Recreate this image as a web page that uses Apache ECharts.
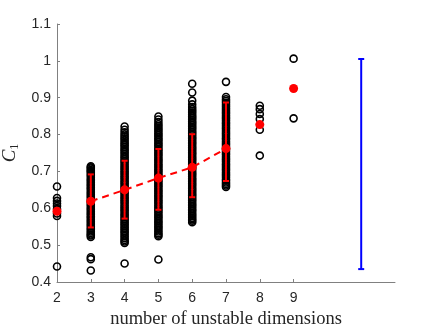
<!DOCTYPE html>
<html>
<head>
<meta charset="utf-8">
<script src="https://cdn.jsdelivr.net/npm/echarts@6/dist/echarts.min.js"></script>
<style>html,body{margin:0;padding:0;background:#fff}#c{width:436px;height:327px}</style>
</head>
<body>
<div id="c"></div>
<script>
// ---- data ----
var xTicks = [2, 3, 4, 5, 6, 7, 8, 9];
var yTicks = [0.4, 0.5, 0.6, 0.7, 0.8, 0.9, 1, 1.1];
var c2 = [0.659,0.628,0.620,0.613,0.606,0.598,0.586,0.579,0.442];
var c3 = [0.714,0.711,0.708,0.704,0.701,0.698,0.693,0.689,0.684,0.679,0.675,0.670,0.665,0.661,0.656,0.652,0.647,0.642,0.638,0.633,0.629,0.624,0.619,0.615,0.610,0.606,0.601,0.597,0.592,0.587,0.583,0.578,0.574,0.569,0.565,0.560,0.555,0.551,0.546,0.542,0.537,0.533,0.529,0.526,0.522,0.467,0.462,0.431];
var c4 = [0.822,0.813,0.806,0.800,0.795,0.790,0.785,0.780,0.775,0.771,0.766,0.761,0.757,0.752,0.747,0.742,0.738,0.733,0.728,0.724,0.719,0.714,0.709,0.705,0.700,0.696,0.691,0.686,0.682,0.677,0.672,0.668,0.663,0.658,0.654,0.649,0.644,0.640,0.635,0.630,0.626,0.621,0.617,0.612,0.607,0.603,0.598,0.594,0.589,0.584,0.580,0.575,0.570,0.566,0.561,0.557,0.552,0.547,0.543,0.538,0.534,0.529,0.524,0.519,0.514,0.510,0.506,0.450];
var c5 = [0.849,0.841,0.834,0.828,0.823,0.818,0.813,0.808,0.803,0.799,0.794,0.789,0.785,0.780,0.775,0.771,0.766,0.761,0.757,0.752,0.747,0.743,0.738,0.733,0.729,0.724,0.719,0.715,0.710,0.705,0.701,0.696,0.691,0.687,0.682,0.677,0.673,0.668,0.663,0.659,0.654,0.649,0.645,0.640,0.635,0.631,0.626,0.621,0.617,0.612,0.607,0.603,0.598,0.593,0.589,0.584,0.579,0.575,0.570,0.565,0.561,0.556,0.551,0.547,0.542,0.537,0.532,0.528,0.524,0.461];
var c6 = [0.938,0.914,0.892,0.882,0.875,0.869,0.864,0.859,0.854,0.849,0.845,0.840,0.835,0.831,0.826,0.821,0.817,0.812,0.807,0.803,0.798,0.793,0.789,0.784,0.779,0.775,0.770,0.765,0.761,0.756,0.751,0.747,0.742,0.737,0.733,0.728,0.723,0.719,0.714,0.709,0.705,0.700,0.695,0.691,0.686,0.681,0.677,0.672,0.667,0.663,0.658,0.653,0.649,0.644,0.639,0.635,0.630,0.625,0.621,0.616,0.611,0.607,0.602,0.597,0.593,0.588,0.583,0.579,0.574,0.570,0.566,0.562];
var c7 = [0.943,0.902,0.896,0.891,0.886,0.881,0.876,0.871,0.866,0.861,0.857,0.852,0.847,0.843,0.838,0.833,0.829,0.824,0.819,0.815,0.810,0.805,0.801,0.796,0.791,0.787,0.782,0.777,0.773,0.768,0.763,0.759,0.754,0.749,0.745,0.740,0.735,0.731,0.726,0.721,0.717,0.712,0.707,0.703,0.698,0.693,0.689,0.684,0.679,0.675,0.670,0.666,0.662,0.658];
var c8 = [0.878,0.869,0.856,0.842,0.813,0.743];
var c9 = [1.006,0.844];
var meanX = [2, 3, 4, 5, 6, 7, 8, 9];
var meanY = [0.592,0.619,0.650,0.682,0.711,0.762,0.827,0.925];
var errX = [3, 4, 5, 6, 7];
var errLow = [0.548,0.572,0.596,0.630,0.674];
var errHigh = [0.692,0.729,0.761,0.801,0.887];
var rangeX = 11;
var rangeLow = 0.435;
var rangeHigh = 1.005;

// ---- build ----
var columns = [c2,c3,c4,c5,c6,c7,c8,c9];
var circles = [];
columns.forEach(function (col, i) { col.forEach(function (v) { circles.push([xTicks[i], v]); }); });
var means = meanX.map(function (x, i) { return [x, meanY[i]]; });
var lineData = means.filter(function (d) { return d[0] >= 3 && d[0] <= 7; });
var errData = errX.map(function (x, i) { return [x, errLow[i], errHigh[i]]; });

function barRender(color, lw, cap) {
  return function (params, api) {
    var x = api.value(0);
    var lo = api.coord([x, api.value(1)]);
    var hi = api.coord([x, api.value(2)]);
    var st = { stroke: color, lineWidth: lw };
    return { type: 'group', children: [
      { type: 'line', shape: { x1: lo[0], y1: lo[1], x2: hi[0], y2: hi[1] }, style: st },
      { type: 'line', shape: { x1: lo[0] - cap, y1: lo[1], x2: lo[0] + cap, y2: lo[1] }, style: st },
      { type: 'line', shape: { x1: hi[0] - cap, y1: hi[1], x2: hi[0] + cap, y2: hi[1] }, style: st }
    ]};
  };
}

var axisText = { color: '#262626', fontFamily: 'Liberation Sans', fontSize: 14 };
var chart = echarts.init(document.getElementById('c'), null, { renderer: 'canvas' });
chart.setOption({
  animation: false,
  grid: { left: 57, right: 41, top: 24, bottom: 45, containLabel: false, outerBoundsMode: 'none' },
  xAxis: {
    type: 'value', min: 2, max: 12, interval: 1,
    splitLine: { show: false },
    axisLine: { lineStyle: { color: '#808080', width: 1 } },
    axisTick: { inside: true, length: 3, lineStyle: { color: '#808080' }, customValues: xTicks },
    axisLabel: Object.assign({ margin: 9, customValues: xTicks }, axisText),
    name: 'number of unstable dimensions', nameLocation: 'middle', nameGap: 21,
    nameTextStyle: { fontFamily: 'Liberation Serif', fontSize: 18.5, color: '#262626' }
  },
  yAxis: {
    type: 'value', min: 0.4, max: 1.1, interval: 0.1,
    splitLine: { show: false },
    axisLine: { show: true, lineStyle: { color: '#808080', width: 1 } },
    axisTick: { show: true, inside: true, length: 3, lineStyle: { color: '#808080' } },
    axisLabel: Object.assign({ margin: 6, customValues: yTicks, formatter: function (v) { return String(Math.round(v * 10) / 10); } }, axisText),
    name: '{c|C}{s|1}', nameLocation: 'middle', nameGap: 33, nameRotate: 90,
    nameTextStyle: { rich: {
      c: { fontFamily: 'Liberation Serif', fontStyle: 'italic', fontSize: 19, color: '#262626', lineHeight: 22 },
      s: { fontFamily: 'Liberation Serif', fontSize: 12, color: '#262626', lineHeight: 22, verticalAlign: 'bottom', padding: [10, 0, 0, 0] }
    } }
  },
  series: [
    { type: 'scatter', data: circles, symbol: 'circle', symbolSize: 7, z: 2,
      itemStyle: { color: 'rgba(0,0,0,0)', borderColor: '#000', borderWidth: 1.6, opacity: 1 } },
    { type: 'line', data: lineData, showSymbol: false, z: 3,
      lineStyle: { color: '#ff0000', width: 2, type: [7, 5] } },
    { type: 'custom', data: errData, renderItem: barRender('#ff0000', 2, 3), z: 4 },
    { type: 'scatter', data: means, symbol: 'circle', symbolSize: 9, z: 5,
      itemStyle: { color: '#ff0000', opacity: 1 } },
    { type: 'custom', data: [[rangeX, rangeLow, rangeHigh]], renderItem: barRender('#0000ff', 2, 3), z: 4 }
  ]
});
</script>
</body>
</html>
